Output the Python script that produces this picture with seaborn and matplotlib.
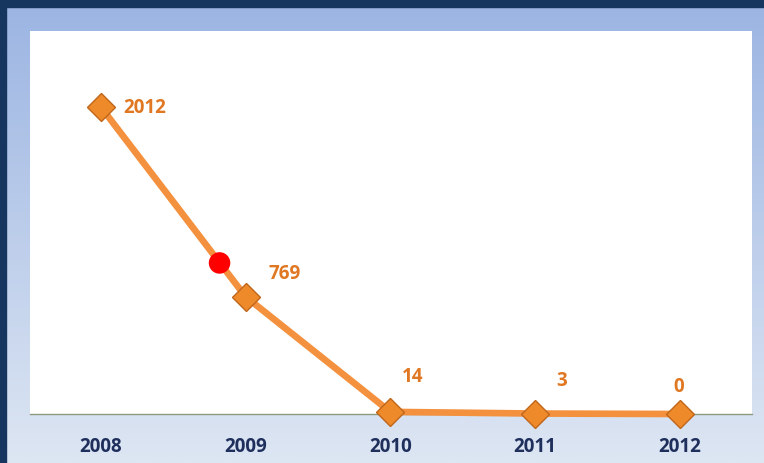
import numpy as np
import pandas as pd
import matplotlib
matplotlib.use("Agg")
import matplotlib.pyplot as plt
import seaborn as sns

years = ["2008", "2009", "2010", "2011", "2012"]
values = [2012, 769, 14, 3, 0]
value_labels = ["2012", "769", "14", "3", "0"]
highlight_pos = [0.82]
highlight_val = [990]

label_offsets = [(16, 0), (28, 17), (16, 26), (19, 24), (-1, 20)]
label_ha = ["left", "center", "center", "center", "center"]

sns.set_theme(style="white")
plt.rcParams["font.family"] = ["Open Sans", "DejaVu Sans"]

W, H = 764, 464
fig = plt.figure(figsize=(W / 100, H / 100), dpi=100)

# background gradient
bg = fig.add_axes([0, 0, 1, 1], zorder=-5)
top = np.array([0x9B, 0xB4, 0xE2]) / 255
bot = np.array([0xDD, 0xE6, 0xF3]) / 255
t = np.linspace(0, 1, 256)[:, None]
grad = top[None, :] * (1 - t) + bot[None, :] * t
img = np.repeat(grad[:, None, :], 2, axis=1)
bg.imshow(img, aspect="auto", extent=[0, W, H, 0], interpolation="bilinear")
navy = "#17365F"
bg.axhspan(0, 8, color=navy)
bg.axvspan(0, 6, color=navy)
bg.set_xlim(0, W)
bg.set_ylim(H, 0)
bg.axis("off")

ax = fig.add_axes([30 / W, (H - 415) / H, (752 - 30) / W, (415 - 32) / H])
ax.set_facecolor("white")
df = pd.DataFrame({"pos": np.arange(len(years)), "value": values})
sns.lineplot(data=df, x="pos", y="value", ax=ax, color="#F4913F", lw=4.8,
             marker="D", markersize=14, markerfacecolor="#EE8A2A",
             markeredgecolor="#C0661A", markeredgewidth=1.0, zorder=3,
             clip_on=False)
ax.scatter(highlight_pos, highlight_val, s=240, color="#FF0000", zorder=5,
           edgecolors="none")

for i, (v, lab) in enumerate(zip(values, value_labels)):
    dx, dy = label_offsets[i]
    ax.annotate(lab, (i, v), xytext=(dx, dy), textcoords="offset points",
                ha=label_ha[i], va="center", color="#E07722",
                fontsize=13.5, fontweight="bold")

ax.set_xlim(-0.49, 4.5)
ax.set_ylim(0, 2510)
ax.set_xticks(range(len(years)))
ax.set_xticklabels(years, color="#1F2F5C", fontsize=13.5, fontweight="bold")
ax.tick_params(axis="x", length=0, pad=16)
ax.set_yticks([])
ax.set_xlabel("")
ax.set_ylabel("")
for s in ["top", "left", "right"]:
    ax.spines[s].set_visible(False)
ax.spines["bottom"].set_color("#8E9A80")
ax.spines["bottom"].set_linewidth(1.0)
ax.spines["bottom"].set_zorder(1)

fig.savefig("out.png", dpi=100)
